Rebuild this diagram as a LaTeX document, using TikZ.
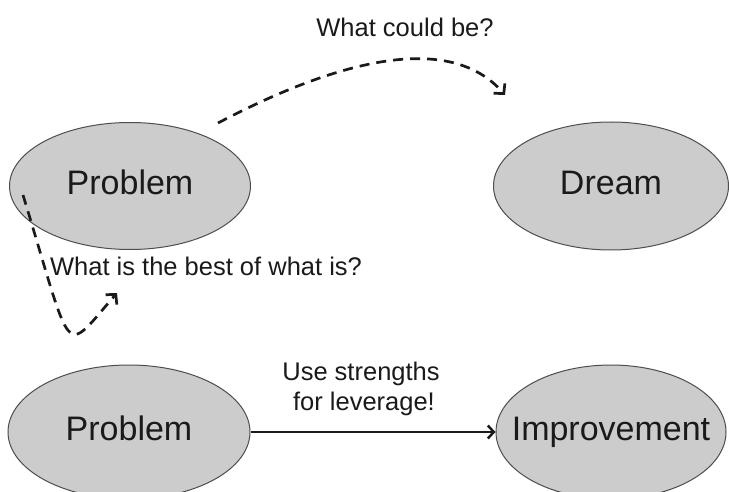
\documentclass[tikz,border=0pt]{standalone}
\usepackage{fontspec}
\setmainfont{Liberation Sans}
\usetikzlibrary{shapes.geometric,arrows.meta}
\definecolor{ellfill}{HTML}{CCCCCC}
\definecolor{elldraw}{HTML}{4D4D4D}
\definecolor{ink}{HTML}{1A1A1A}
\tikzset{
  blob/.style={ellipse, draw=elldraw, line width=1pt, fill=ellfill, inner ysep=0pt, inner xsep=-30pt,
    text=ink, font=\fontsize{34}{40}\selectfont, text height=24pt, text depth=7pt},
  lbl/.style={text=ink, font=\fontsize{25.5}{30}\selectfont, inner sep=0pt},
  dasharrow/.style={line width=2.7pt, dash pattern=on 10pt off 7pt, ink,
    -{Straight Barb[length=7pt,width=15pt,line width=2.7pt]}},
  solidarrow/.style={line width=2.5pt, ink, -{Straight Barb[length=6pt,width=13pt,line width=2.5pt]}}
}
\begin{document}
\begin{tikzpicture}[x=1pt,y=-1pt]
\clip (0,0) rectangle (729,492);
\fill[white] (0,0) rectangle (729,492);

\node[blob, minimum width=241pt, minimum height=127pt] (prob1) at (130,186) {Problem};
\node[blob, minimum width=235pt, minimum height=128pt] (dream) at (611,186) {Dream};
\node[blob, minimum width=242pt, minimum height=134pt] (prob2) at (129,432) {Problem};
\node[blob, minimum width=230pt, minimum height=134pt] (impr) at (611,432) {Improvement};

\node[lbl, anchor=base] (lcould) at (405,37) {What could be?};
\node[lbl, anchor=base] (lbest) at (206,276) {What is the best of what is?};
\node[lbl, anchor=base] (luse1) at (361,380) {Use strengths};
\node[lbl, anchor=base] (luse2) at (364,410) {for leverage!};

\coordinate (c1s) at (218,123);
\coordinate (c1e) at (505,95);
\coordinate (c2s) at (23,195);
\coordinate (c2e) at (117,293);

\draw[dasharrow] (c1s) .. controls (300,80) and (440,20) .. (c1e);
\draw[dasharrow] (c2s) .. controls (74,362) and (62,356) .. (c2e);
\draw[solidarrow] (prob2) -- (impr);
\end{tikzpicture}
\end{document}
